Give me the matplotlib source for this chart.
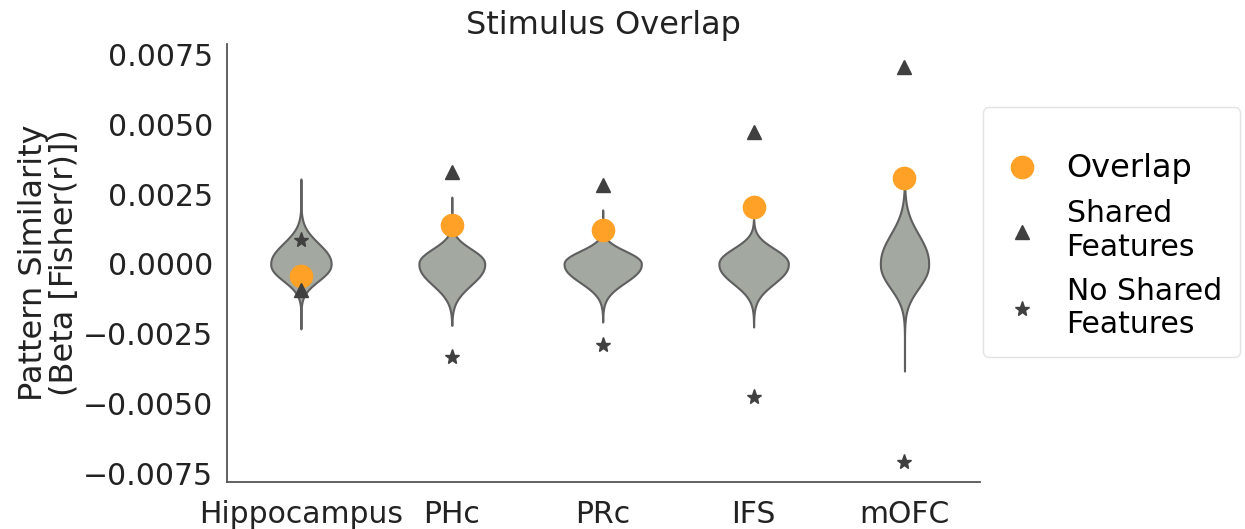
import numpy as np
import matplotlib.pyplot as plt

regions = ['Hippocampus', 'PHc', 'PRc', 'IFS', 'mOFC']
overlap = [-0.00042, 0.0014, 0.00122, 0.00204, 0.00308]
shared = [-0.00093, 0.0033, 0.00283, 0.00473, 0.00707]
no_shared = [0.00086, -0.00334, -0.0029, -0.00477, -0.0071]

# null distribution summary per region: range, spread above/below zero, peak half-width
null_lo = [-0.00233, -0.0022, -0.00208, -0.00226, -0.00384]
null_hi = [0.00305, 0.0024, 0.00194, 0.0016, 0.0027]
null_up = [0.00098, 0.00072, 0.00062, 0.00074, 0.0014]
null_down = [0.0008, 0.001, 0.00088, 0.00094, 0.00115]
null_width = [0.2, 0.218, 0.256, 0.23, 0.16]

fig = plt.figure(figsize=(12.45, 5.29), dpi=100)
ax = fig.add_axes([0.1823, 0.0888, 0.6048, 0.828])

for i in range(len(regions)):
    yy = np.linspace(null_lo[i], null_hi[i], 500)
    s = np.where(yy >= 0, null_up[i], null_down[i])
    w = null_width[i] * np.exp(-np.abs(yy / s) ** 2.2)
    ax.fill_betweenx(yy, i - w, i + w, facecolor='#a3a8a0',
                     edgecolor='#5f5f5f', linewidth=1.5, zorder=2)

x = np.arange(len(regions))
ax.plot(x, overlap, 'o', color='#ffa126', markersize=16, zorder=3,
        label='Overlap')
ax.plot(x, shared, '^', color='#404040', markersize=10, zorder=4,
        label='Shared\nFeatures')
ax.plot(x, no_shared, '*', color='#404040', markersize=11, zorder=4,
        label='No Shared\nFeatures')

ax.set_xlim(-0.49, 4.5)
ax.set_ylim(-0.00782, 0.00789)
ax.set_xticks(x)
ax.set_xticklabels(regions)
ax.set_yticks([-0.0075, -0.005, -0.0025, 0, 0.0025, 0.005, 0.0075])
ax.tick_params(length=0, labelsize=21.5, colors='#222222')
ax.tick_params(axis='x', pad=13)
ax.tick_params(axis='y', pad=10)
for s in ['top', 'right']:
    ax.spines[s].set_visible(False)
for s in ['left', 'bottom']:
    ax.spines[s].set_color('#555555')
    ax.spines[s].set_linewidth(1.3)

ax.set_title('Stimulus Overlap', fontsize=23, color='#222222', pad=7)
ax.set_ylabel('Pattern Similarity\n(Beta [Fisher(r)])', fontsize=23,
              color='#222222', linespacing=1.0, labelpad=2)

leg = ax.legend(loc='center left', bbox_to_anchor=(0.998, 0.57), fontsize=21.5,
                frameon=True, edgecolor='#dddddd', borderpad=0.6,
                borderaxespad=0.15, handlelength=1.4, handletextpad=0.8,
                labelspacing=0.5, title=' ', title_fontsize=9)
leg.get_texts()[0].set_fontsize(23)

fig.savefig('out.png', dpi=100)
